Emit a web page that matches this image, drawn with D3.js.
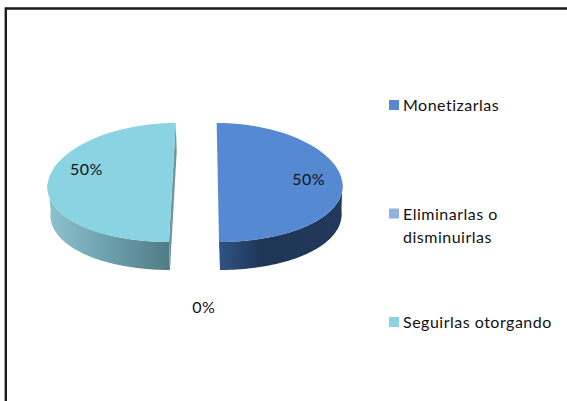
<!DOCTYPE html>
<html>
<head>
<meta charset="utf-8">
<script src="https://cdn.jsdelivr.net/npm/d3@7"></script>
<style>
    html, body { margin: 0; padding: 0; background: #fff; overflow: hidden; }
    text { font-family: Lato, "Open Sans", sans-serif; fill: #111; font-size: 16px; letter-spacing: 0.5px; }
</style>
</head>
<body>
<div id="chart"></div>
<script>
const categories = ['Monetizarlas', 'Eliminarlas o disminuirlas', 'Seguirlas otorgando'];
const values = [50, 0, 50];
const legendLines = [['Monetizarlas'], ['Eliminarlas o', 'disminuirlas'], ['Seguirlas otorgando']];
const colors = ['#558ad2', '#8eb1e1', '#8ad3e2'];

const width = 567, height = 401;

const svg = d3.select('#chart').append('svg')
    .attr('width', width)
    .attr('height', height);

// picture frame, only top and left show in the reference
svg.append('path')
    .attr('d', `M5.8,${height}V8.5H${width}`)
    .attr('fill', 'none')
    .attr('stroke', '#1a1a1a')
    .attr('stroke-width', 2.4);

// fake 3d: unit circle coords -> screen, with a bit of perspective
const cy = 182.5, rx = 124.5, ry = 59.5, depth = 28, explode = 22.75, persp = 0.1;

function project(angle, r, side, lower) {
    const u = Math.sin(angle) * r;
    const v = -Math.cos(angle) * r;
    const cx = 195.1 - 1.1 * v + (lower ? 1 : 0);
    const shrink = lower ? 0.985 : 1;
    return [
        cx + u * rx * shrink * (1 + persp * v / 2) + side * explode * (1 + persp * v),
        cy + ry * v + (lower ? depth : 0)
    ];
}

const pie = d3.pie().sort(null).value(d => d);
const slices = pie(values);
const line = d3.line();

function rim(from, to, side, lower) {
    return d3.range(0, 61).map(i => project(from + (to - from) * i / 60, 1, side, lower));
}

// d3.pie can land a hair past PI, so go by the slice midpoint
function sideOf(s) {
    if (!s.value) return 0;
    return (s.startAngle + s.endAngle) / 2 < Math.PI ? 1 : -1;
}

const defs = svg.append('defs');
const wallStops = [
    [['0%', '#2f5383'], ['35%', '#1f3657'], ['100%', '#22395b']],
    [],
    [['0%', '#8fc2cf'], ['45%', '#6fa3b0'], ['100%', '#4f7c84']]
];
wallStops.forEach((stops, i) => {
    const grad = defs.append('linearGradient').attr('id', 'wall' + i);
    stops.forEach(s => grad.append('stop').attr('offset', s[0]).attr('stop-color', s[1]));
});

const pieG = svg.append('g');

slices.forEach((s, i) => {
    if (!s.value) return;
    const side = sideOf(s);

    // outer wall, only the front half of the rim is visible
    const from = Math.max(s.startAngle, Math.PI / 2);
    const to = Math.min(s.endAngle, Math.PI * 1.5);
    const top = rim(from, to, side, false);
    const bottom = rim(from, to, side, true).reverse();
    pieG.append('path')
        .attr('d', line(top.concat(bottom)) + 'Z')
        .attr('fill', `url(#wall${i})`);

    // cut face of the left slice peeks out next to the gap
    if (side < 0) {
        pieG.append('path')
            .attr('d', line([
                project(s.startAngle, 1, side, false),
                project(s.endAngle, 1, side, false),
                project(s.endAngle, 1, side, true),
                project(s.startAngle, 1, side, true)
            ]) + 'Z')
            .attr('fill', '#6f969e');
    }

    // top face
    pieG.append('path')
        .attr('d', line(rim(s.startAngle, s.endAngle, side, false)) + 'Z')
        .attr('fill', colors[i]);
});

// data labels
const labelR = [0.73, 2.1, 0.69];
const labelNudge = [[0, -3], [11, 0], [0, -13]];
slices.forEach((s, i) => {
    const mid = (s.startAngle + s.endAngle) / 2;
    const p = project(mid, labelR[i], sideOf(s), false);
    svg.append('text')
        .attr('x', p[0] + labelNudge[i][0])
        .attr('y', p[1] + labelNudge[i][1])
        .attr('dy', '0.35em')
        .attr('text-anchor', 'middle')
        .text(d3.format('.0%')(s.value / d3.sum(values)));
});

// legend
const legendY = d3.scalePoint().domain(categories).range([105, 322]);
const legend = svg.append('g').selectAll('g')
    .data(categories)
    .enter().append('g')
    .attr('transform', d => `translate(389,${legendY(d)})`);

legend.append('rect')
    .attr('y', -5)
    .attr('width', 10)
    .attr('height', 10)
    .attr('fill', (d, i) => colors[i]);

legend.append('text')
    .selectAll('tspan')
    .data((d, i) => legendLines[i])
    .enter().append('tspan')
    .attr('x', 14)
    .attr('y', (d, i) => 6 + i * 23)
    .text(d => d);
</script>
</body>
</html>
